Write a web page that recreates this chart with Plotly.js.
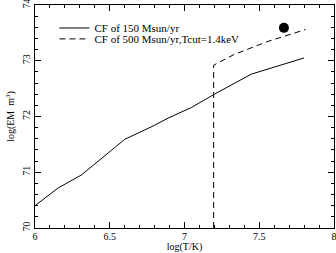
<!DOCTYPE html>
<html><head><meta charset="utf-8">
<script src="https://cdn.plot.ly/plotly-3.0.1.min.js"></script>
<style>html,body{margin:0;padding:0;background:#fff}</style>
</head><body>
<div id="chart" style="width:336px;height:253px"></div>
<script>
var logT150 = [6.0, 6.156, 6.31, 6.60, 6.79, 6.89, 7.045, 7.20, 7.447, 7.80];
var logEM150 = [70.40, 70.72, 70.95, 71.59, 71.83, 71.97, 72.16, 72.40, 72.76, 73.05];
var logT500 = [7.195, 7.195, 7.33, 7.45, 7.55, 7.81];
var logEM500 = [70.0, 72.92, 73.11, 73.24, 73.34, 73.56];
var dotT = [7.665];
var dotEM = [73.59];
var name150 = 'CF of 150 Msun/yr';
var name500 = 'CF of 500 Msun/yr,Tcut=1.4keV';

var font = {family: 'Liberation Serif, DejaVu Serif, serif', size: 10, color: '#000'};
var lfont = {family: 'Liberation Serif, DejaVu Serif, serif', size: 11, color: '#000'};
var traces = [
  {x: logT150, y: logEM150, mode: 'lines', name: name150, legend: 'legend', line: {color: '#000', width: 1}},
  {x: logT500, y: logEM500, mode: 'lines', name: name500, legend: 'legend2', line: {color: '#000', width: 1, dash: '6px,4px'}},
  {x: dotT, y: dotEM, mode: 'markers', showlegend: false, marker: {color: '#000', size: 10}}
];
var axisCommon = {
  showgrid: false, zeroline: false, showline: true, linecolor: '#000', linewidth: 1,
  mirror: 'allticks', ticks: 'inside', ticklen: 6, tickcolor: '#000', tickwidth: 1,
  tickfont: font, ticklabeloverflow: 'allow'
};
var legCommon = {xanchor: 'left', yanchor: 'middle', bgcolor: 'rgba(0,0,0,0)', font: lfont, itemwidth: 30};
var layout = {
  width: 336, height: 253,
  margin: {l: 35, r: 2, t: 5, b: 25},
  paper_bgcolor: '#fff', plot_bgcolor: '#fff',
  font: font,
  showlegend: true,
  legend: Object.assign({x: 0.065, y: 0.897}, legCommon),
  legend2: Object.assign({x: 0.065, y: 0.848}, legCommon),
  xaxis: Object.assign({}, axisCommon, {
    range: [6, 8], tickmode: 'linear', tick0: 6, dtick: 0.5, ticklabelstandoff: -1,
    minor: {dtick: 0.1, ticklen: 3, tickcolor: '#000', ticks: 'inside'},
    title: {text: 'log(T/K)', font: font, standoff: 0}
  }),
  yaxis: Object.assign({}, axisCommon, {
    range: [70, 74], tickmode: 'linear', tick0: 70, dtick: 1, tickangle: -90,
    minor: {dtick: 0.2, ticklen: 3, tickcolor: '#000', ticks: 'inside'},
    title: {text: 'log(EM  m<sup>3</sup>)', font: font, standoff: 4}
  })
};
Plotly.newPlot('chart', traces, layout, {staticPlot: true, displayModeBar: false});
</script>
</body></html>
